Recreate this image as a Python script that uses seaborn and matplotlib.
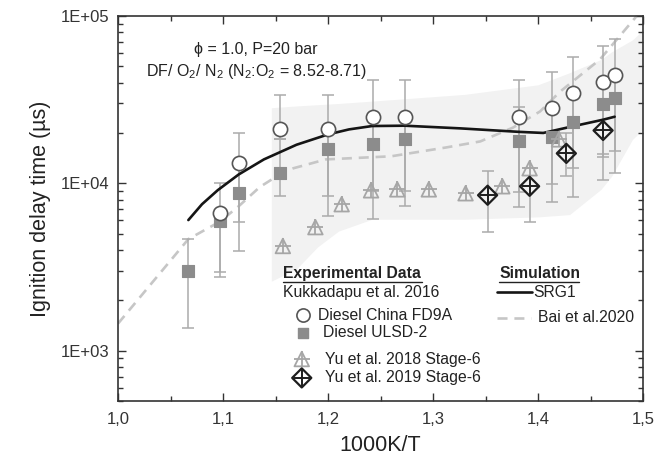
import numpy as np
import pandas as pd
import matplotlib
matplotlib.use("Agg")
import matplotlib.pyplot as plt
import seaborn as sns
from matplotlib.ticker import FixedLocator, FuncFormatter, MultipleLocator, NullFormatter

# ---------------- data ----------------
# Kukkadapu et al. 2016 - Diesel China FD9A (open circles)
fd9a_x = [1.097, 1.115, 1.154, 1.200, 1.243, 1.273, 1.382, 1.413, 1.433, 1.462, 1.473]
fd9a_y = [6630, 13300, 21200, 21200, 25000, 25000, 25000, 28300, 34800, 40400, 44500]
fd9a_lo = [2960, 5900, 18300, 8380, 9000, 8960, 8840, 9870, 12300, 14300, 15500]
fd9a_hi = [10000, 20000, 33900, 33900, 41700, 41700, 41700, 46400, 57000, 66200, 73000]

# Kukkadapu et al. 2016 - Diesel ULSD-2 (filled squares)
ulsd_x = [1.067, 1.097, 1.115, 1.154, 1.200, 1.243, 1.273, 1.382, 1.413, 1.433, 1.462, 1.473]
ulsd_y = [2990, 5940, 8720, 11600, 16100, 17200, 18300, 18000, 19000, 23100, 29900, 32500]
ulsd_lo = [1370, 2750, 3940, 8380, 6360, 6100, 7300, 7200, 7700, 8250, 10400, 11500]
ulsd_hi = [4640, 6630, 13300, 18300, 21200, 25000, 25000, 28700, 28300, 34800, 40400, 44500]

# Yu et al. 2018 Stage-6 (crossed triangles)
yu18_x = [1.157, 1.188, 1.213, 1.241, 1.266, 1.296, 1.331, 1.366, 1.392, 1.420]
yu18_y = [4220, 5470, 7500, 9080, 9200, 9200, 8720, 9600, 12300, 18300]

# Yu et al. 2019 Stage-6 (crossed diamonds)
yu19_x = [1.352, 1.392, 1.427, 1.462]
yu19_y = [8490, 9600, 15100, 20700]
yu19_lo = [5100, 5860, 11000, 15000]
yu19_hi = [11800, 12300, 20000, 28000]

# Simulation: SRG1
srg_x = [1.067, 1.080, 1.095, 1.115, 1.139, 1.170, 1.200, 1.220, 1.242, 1.273, 1.326, 1.382, 1.405, 1.433, 1.462, 1.473]
srg_y = [6030, 7500, 9100, 11300, 13900, 17000, 19600, 21000, 22000, 22100, 21300, 20300, 20000, 21900, 24000, 25000]

# Simulation: Bai et al. 2020
bai_x = [1.000, 1.067, 1.097, 1.115, 1.135, 1.154, 1.167, 1.198, 1.260, 1.313, 1.345, 1.376, 1.402, 1.421, 1.459, 1.494]
bai_y = [1450, 4640, 5900, 7300, 9500, 11300, 12300, 13900, 14500, 16400, 17800, 21500, 26900, 35300, 55000, 100000]

# Uncertainty band
band_x = [1.146, 1.170, 1.190, 1.210, 1.242, 1.330, 1.400, 1.430, 1.460, 1.470, 1.490, 1.500]
band_lo = [2600, 3080, 4160, 5180, 6100, 6100, 6300, 6500, 9200, 11000, 18300, 21000]
band_hi = [28300, 29000, 29500, 30000, 31000, 34000, 38800, 45800, 55000, 61000, 72000, 82600]

x_ticks = [1.0, 1.1, 1.2, 1.3, 1.4, 1.5]
x_ticklabels = ["1,0", "1,1", "1,2", "1,3", "1,4", "1,5"]
y_ticks = [1e3, 1e4, 1e5]
y_ticklabels = ["1E+03", "1E+04", "1E+05"]

# ---------------- style ----------------
sns.set_style("ticks")
plt.rcParams["font.family"] = ["Liberation Sans", "DejaVu Sans"]
plt.rcParams["mathtext.fontset"] = "custom"
plt.rcParams["mathtext.rm"] = "Liberation Sans"
plt.rcParams["mathtext.it"] = "Liberation Sans:italic"
plt.rcParams["mathtext.bf"] = "Liberation Sans:bold"

fig = plt.figure(figsize=(6.65, 4.61), dpi=100)
ax = fig.add_axes([118 / 665, 60 / 461, 525 / 665, 385 / 461])
ax.set_yscale("log")

ERR = "#ababab"

# band
ax.fill_between(band_x, band_lo, band_hi, color="#f2f2f2", lw=0, zorder=0)

# simulation lines
sns.lineplot(x=bai_x, y=bai_y, ax=ax, color="#c6c6c6", lw=1.9,
             linestyle=(0, (3.8, 2.6)), sort=False, zorder=1)
sns.lineplot(x=srg_x, y=srg_y, ax=ax, color="#151515", lw=1.9, sort=False, zorder=3)

# error bars
def ebar(x, y, lo, hi):
    y = np.asarray(y, float)
    yerr = [y - np.asarray(lo, float), np.asarray(hi, float) - y]
    ax.errorbar(x, y, yerr=yerr, fmt="none", ecolor=ERR, elinewidth=1.1,
                capsize=4.5, capthick=1.1, zorder=2)

ebar(ulsd_x, ulsd_y, ulsd_lo, ulsd_hi)
ebar(fd9a_x, fd9a_y, fd9a_lo, fd9a_hi)
ebar(yu19_x, yu19_y, yu19_lo, yu19_hi)

# markers
sns.scatterplot(x=ulsd_x, y=ulsd_y, ax=ax, marker="s", s=75, color="#8c8c8c",
                edgecolor="#8c8c8c", linewidth=0.8, zorder=4)
sns.scatterplot(x=fd9a_x, y=fd9a_y, ax=ax, marker="o", s=105, color="white",
                edgecolor="#555555", linewidth=1.2, zorder=5)
sns.scatterplot(x=yu18_x, y=yu18_y, ax=ax, marker="^", s=110, color="none",
                edgecolor="#a6a6a6", linewidth=1.3, zorder=5)
sns.scatterplot(x=yu18_x, y=yu18_y, ax=ax, marker="+", s=120, color="#a6a6a6",
                linewidth=1.3, zorder=5)
sns.scatterplot(x=yu19_x, y=yu19_y, ax=ax, marker="D", s=95, color="none",
                edgecolor="#1e1e1e", linewidth=1.6, zorder=6)
sns.scatterplot(x=yu19_x, y=yu19_y, ax=ax, marker="+", s=120, color="#1e1e1e",
                linewidth=1.4, zorder=6)

# axes
ax.set_xlim(1.0, 1.5)
ax.set_ylim(500, 1e5)
ax.xaxis.set_major_locator(FixedLocator(x_ticks))
ax.xaxis.set_major_formatter(FuncFormatter(lambda v, p: x_ticklabels[int(round((v - 1.0) * 10))]))
ax.xaxis.set_minor_locator(MultipleLocator(0.05))
ax.yaxis.set_major_locator(FixedLocator(y_ticks))
ax.yaxis.set_major_formatter(FuncFormatter(lambda v, p: y_ticklabels[int(round(np.log10(v))) - 3]))
minor_y = [m * 10 ** e for e in (2, 3, 4) for m in range(2, 10) if 500 <= m * 10 ** e <= 1e5]
ax.yaxis.set_minor_locator(FixedLocator(minor_y))
ax.yaxis.set_minor_formatter(NullFormatter())

ax.tick_params(which="both", direction="in", top=True, right=True, color="#333333", width=1.0)
ax.tick_params(which="major", length=6)
ax.tick_params(which="minor", length=3.5)
ax.tick_params(axis="x", which="major", labelsize=12, pad=8, labelcolor="#333333")
ax.tick_params(axis="y", which="major", labelsize=12, pad=6, labelcolor="#333333")
for sp in ax.spines.values():
    sp.set_color("#333333")
    sp.set_linewidth(1.2)

ax.set_xlabel("1000K/T", fontsize=15.5, labelpad=6, color="#222222")
ax.set_ylabel("Ignition delay time (µs)", fontsize=15.5, labelpad=7, color="#222222")

# annotation
T = ax.transAxes
ax.text(0.263, 0.912, "ϕ = 1.0, P=20 bar", transform=T, ha="center", va="center",
        fontsize=11.5, color="#222222")
ax.text(0.263, 0.855, r"DF/ O$_2$/ N$_2$ (N$_2$:O$_2$ = 8.52-8.71)", transform=T,
        ha="center", va="center", fontsize=11.5, color="#222222")

# legend (custom)
TXT = dict(transform=T, va="center", ha="left", fontsize=11.3, color="#222222")
ax.text(0.314, 0.332, "Experimental Data", fontweight="bold", **TXT)
ax.plot([0.314, 0.579], [0.309, 0.309], transform=T, color="#222222", lw=1.0, clip_on=False)
ax.text(0.314, 0.281, "Kukkadapu et al. 2016", **TXT)
ax.text(0.381, 0.223, "Diesel China FD9A", **TXT)
ax.text(0.390, 0.177, "Diesel ULSD-2", **TXT)
ax.text(0.394, 0.109, "Yu et al. 2018 Stage-6", **TXT)
ax.text(0.394, 0.060, "Yu et al. 2019 Stage-6", **TXT)

ax.scatter([0.352], [0.223], transform=T, marker="o", s=90, facecolor="white",
           edgecolor="#555555", linewidth=1.2, clip_on=False, zorder=7)
ax.scatter([0.352], [0.177], transform=T, marker="s", s=60, facecolor="#8c8c8c",
           edgecolor="#8c8c8c", clip_on=False, zorder=7)
ax.scatter([0.350], [0.109], transform=T, marker="^", s=110, facecolor="none",
           edgecolor="#a6a6a6", linewidth=1.3, clip_on=False, zorder=7)
ax.scatter([0.350], [0.109], transform=T, marker="+", s=120, color="#a6a6a6",
           linewidth=1.3, clip_on=False, zorder=7)
ax.scatter([0.350], [0.060], transform=T, marker="D", s=95, facecolor="none",
           edgecolor="#1e1e1e", linewidth=1.6, clip_on=False, zorder=7)
ax.scatter([0.350], [0.060], transform=T, marker="+", s=120, color="#1e1e1e",
           linewidth=1.4, clip_on=False, zorder=7)

ax.text(0.726, 0.332, "Simulation", fontweight="bold", **TXT)
ax.plot([0.726, 0.878], [0.309, 0.309], transform=T, color="#222222", lw=1.0, clip_on=False)
ax.plot([0.722, 0.789], [0.283, 0.283], transform=T, color="#151515", lw=1.9)
ax.text(0.791, 0.283, "SRG1", **TXT)
ax.plot([0.722, 0.787], [0.216, 0.216], transform=T, color="#c6c6c6", lw=1.9,
        linestyle=(0, (3.8, 2.6)))
ax.text(0.800, 0.216, "Bai et al.2020", **TXT)

fig.savefig("out.png", dpi=100, facecolor="white")
